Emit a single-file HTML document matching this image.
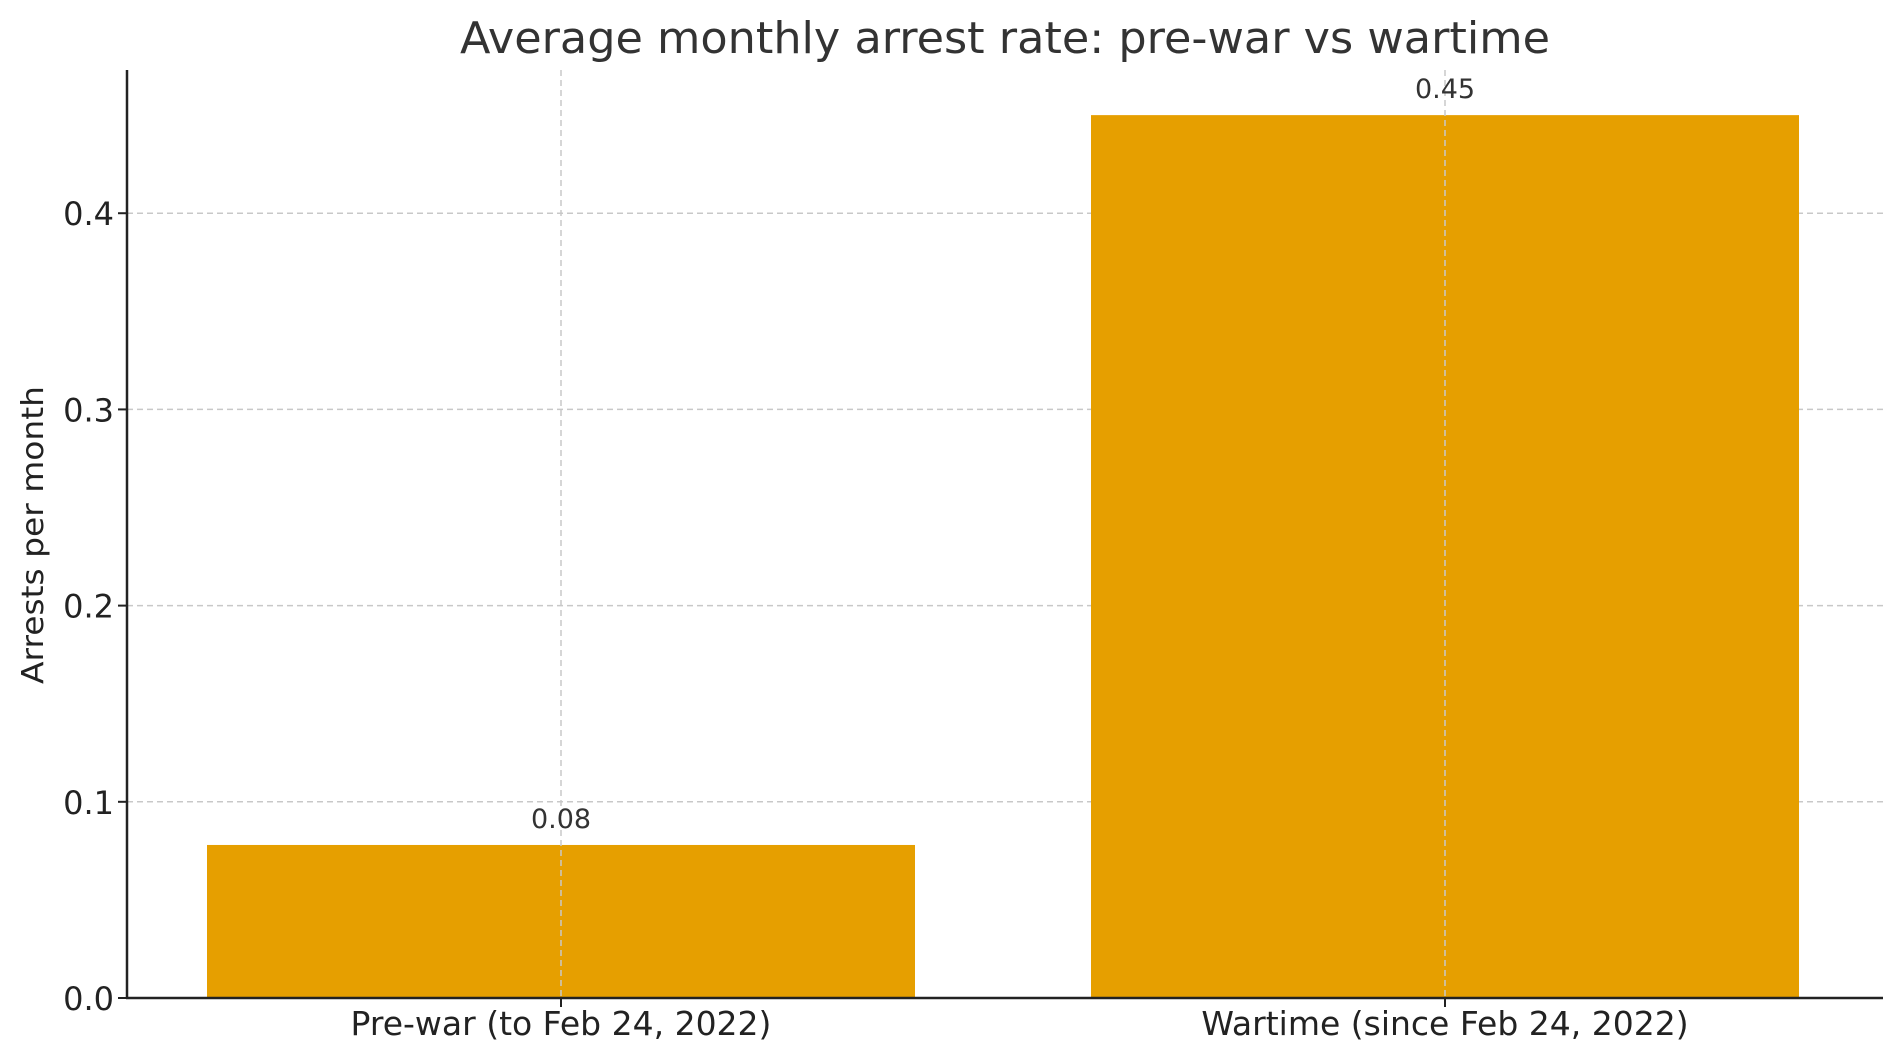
<!DOCTYPE html>
<html><head><meta charset="utf-8"><style>
html,body{margin:0;padding:0;background:#fff;}
svg{display:block;font-family:"DejaVu Sans","Liberation Sans",sans-serif;}
</style></head><body>
<svg id="chart" width="1900" height="1060" viewBox="0 0 1900 1060" xmlns="http://www.w3.org/2000/svg">
<text x="1005" y="53" text-anchor="middle" font-size="44" fill="#333" textLength="1090" lengthAdjust="spacingAndGlyphs">Average monthly arrest rate: pre-war vs wartime</text>
<text transform="translate(43,535) rotate(-90)" text-anchor="middle" font-size="30" fill="#222" textLength="298" lengthAdjust="spacingAndGlyphs">Arrests per month</text>
<g id="grid"></g><g id="bars"></g><g id="vgrid"></g><g id="axes"></g><g id="labels"></g>
</svg>
<script>
const categories = ["Pre-war (to Feb 24, 2022)", "Wartime (since Feb 24, 2022)"];
const values = [0.078, 0.450];
const valueLabels = ["0.08", "0.45"];
const yTicks = [0.0, 0.1, 0.2, 0.3, 0.4];
const yTickLabels = ["0.0", "0.1", "0.2", "0.3", "0.4"];

const NS = "http://www.w3.org/2000/svg";
const L = 127, R = 1883, T = 70, B = 998;
const yMax = 0.473;
function y(v){ return B - (v / yMax) * (B - T); }
const bandStart = 207, bandStep = 884, barW = 708;
function xCenter(i){ return bandStart + barW/2 + i*bandStep; }
function mk(tag, attrs, parent){ const e=document.createElementNS(NS,tag); for(const k in attrs) e.setAttribute(k,attrs[k]); parent.appendChild(e); return e; }
const grid=document.getElementById('grid'), bars=document.getElementById('bars'), vgrid=document.getElementById('vgrid'), axes=document.getElementById('axes'), labels=document.getElementById('labels');

yTicks.forEach((t,i)=>{
  if(t>0){
    const g=mk('line',{x1:L,x2:R,y1:y(t),y2:y(t),stroke:'#c8c8c8','stroke-width':1.5,'stroke-dasharray':'6,4'},grid);
    
    
  }
  const tk=mk('line',{x1:L-9,x2:L,y1:y(t),y2:y(t),stroke:'#222','stroke-width':2},axes);
  
  
  const tl=mk('text',{x:L-13,y:y(t)+12,'text-anchor':'end','font-size':32,fill:'#222'},labels);
  
  
  tl.textContent=yTickLabels[i];
});

categories.forEach((c,i)=>{
  const cx=xCenter(i);
  const r=mk('rect',{x:cx-barW/2,y:y(values[i]),width:barW,height:B-y(values[i]),fill:'#E69F00'},bars);
  
  
  const vg=mk('line',{x1:cx,x2:cx,y1:T,y2:B,stroke:'#c8c8c8','stroke-width':1.5,'stroke-dasharray':'6,4'},vgrid);
  
  
  const tk=mk('line',{x1:cx,x2:cx,y1:B,y2:B+9,stroke:'#222','stroke-width':2},axes);
  
  
  const xl=mk('text',{x:cx,y:1035,'text-anchor':'middle','font-size':33,fill:'#222'},labels);
  
  
  xl.textContent=c;
  const vl=mk('text',{x:cx,y:y(values[i])-17,'text-anchor':'middle','font-size':27,fill:'#333'},labels);
  
  
  vl.textContent=valueLabels[i];
});

const ya=mk('line',{x1:L,x2:L,y1:T,y2:B+1,stroke:'#222','stroke-width':2.5},axes);


const xa=mk('line',{x1:L-1,x2:R,y1:B,y2:B,stroke:'#222','stroke-width':2.5},axes);


</script>
</body></html>
